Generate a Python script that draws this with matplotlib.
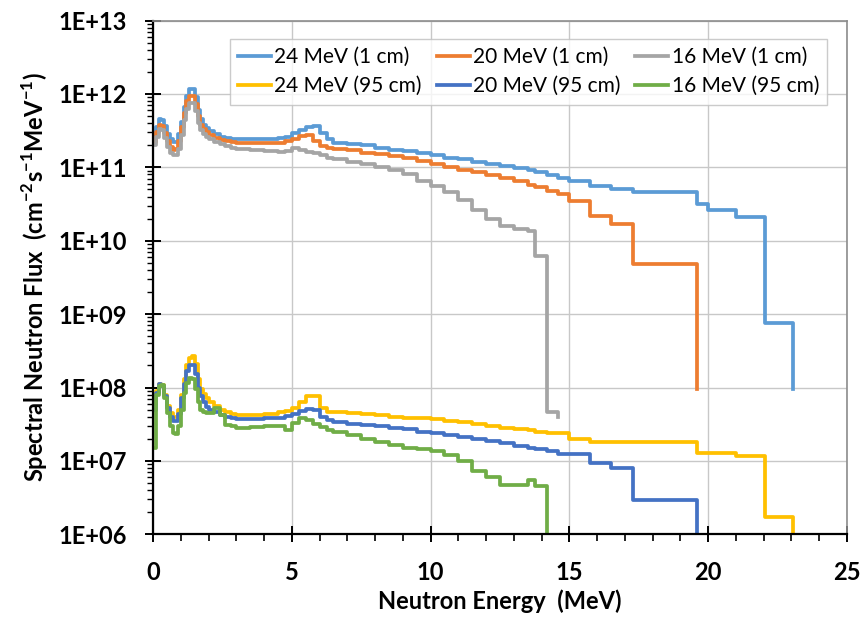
import numpy as np
import matplotlib
matplotlib.use("Agg")
import matplotlib.pyplot as plt
from matplotlib.ticker import FuncFormatter, MultipleLocator, LogLocator

plt.rcParams['font.family'] = ['Lato', 'DejaVu Sans']
plt.rcParams['mathtext.fontset'] = 'custom'
plt.rcParams['mathtext.bf'] = 'Lato:bold'
plt.rcParams['mathtext.rm'] = 'Lato'

# bin edges (MeV), shared by all spectra
energy = [0.0, 0.1, 0.2, 0.3, 0.4, 0.5, 0.6, 0.7, 0.8, 0.9,
          1.0, 1.1, 1.2, 1.3, 1.4, 1.5, 1.6, 1.7, 1.8, 1.9,
          2.0, 2.2, 2.4, 2.6, 2.8, 3.0, 3.5, 4.0, 4.5, 4.75,
          5.0, 5.25, 5.5, 5.75, 6.0, 6.25, 6.5, 7.0, 7.5, 8.0,
          8.5, 9.0, 9.5, 10.0, 10.5, 11.0, 11.5, 12.0, 12.5, 13.0,
          13.5, 13.75, 14.2, 14.6, 15.0, 15.75, 16.5, 17.3, 19.6, 20.0,
          21.0, 22.05, 23.05]

# spectral flux (cm-2 s-1 MeV-1)
flux_24_1cm = [2.6e11, 3.5e11, 4.6e11, 4.4e11, 3.6e11, 2.8e11, 2.4e11, 2.2e11, 2.2e11, 2.8e11,
               4.2e11, 6.6e11, 9.5e11, 1.15e12, 1.17e12, 9.1e11, 6.0e11, 4.5e11, 3.8e11, 3.4e11,
               3.1e11, 2.8e11, 2.6e11, 2.5e11, 2.4e11, 2.4e11, 2.4e11, 2.45e11, 2.5e11, 2.6e11,
               2.9e11, 3.2e11, 3.5e11, 3.6e11, 2.95e11, 2.4e11, 2.15e11, 2.05e11, 2.0e11, 1.86e11,
               1.74e11, 1.66e11, 1.55e11, 1.45e11, 1.35e11, 1.29e11, 1.2e11, 1.12e11, 1.05e11, 9.8e10,
               9.1e10, 8.5e10, 7.8e10, 7.1e10, 6.6e10, 5.5e10, 5.0e10, 4.6e10, 3.2e10, 2.6e10,
               2.1e10, 7.5e8, 9.5e7]

flux_20_1cm = [2.2e11, 3.0e11, 3.8e11, 3.6e11, 2.95e11, 2.3e11, 1.9e11, 1.74e11, 1.78e11, 2.3e11,
               3.5e11, 5.5e11, 7.9e11, 9.3e11, 9.3e11, 7.4e11, 5.0e11, 3.8e11, 3.3e11, 3.0e11,
               2.75e11, 2.5e11, 2.35e11, 2.25e11, 2.2e11, 2.15e11, 2.15e11, 2.15e11, 2.15e11, 2.3e11,
               2.45e11, 2.7e11, 2.75e11, 2.3e11, 1.95e11, 1.86e11, 1.78e11, 1.7e11, 1.58e11, 1.51e11,
               1.41e11, 1.32e11, 1.23e11, 1.12e11, 1.02e11, 9.3e10, 8.5e10, 7.8e10, 7.1e10, 6.5e10,
               5.8e10, 5.4e10, 4.8e10, 4.3e10, 3.5e10, 2.2e10, 1.7e10, 4.8e9, 9.5e7]

flux_16_1cm = [2.0e11, 2.6e11, 3.3e11, 3.2e11, 2.5e11, 1.9e11, 1.58e11, 1.45e11, 1.48e11, 1.8e11,
               2.75e11, 4.4e11, 6.3e11, 7.6e11, 7.6e11, 5.8e11, 4.0e11, 3.2e11, 2.8e11, 2.6e11,
               2.4e11, 2.2e11, 2.05e11, 1.95e11, 1.86e11, 1.8e11, 1.74e11, 1.66e11, 1.62e11, 1.66e11,
               1.86e11, 1.74e11, 1.62e11, 1.55e11, 1.45e11, 1.35e11, 1.29e11, 1.2e11, 1.12e11, 1.02e11,
               9.3e10, 8.1e10, 6.6e10, 5.6e10, 4.6e10, 3.6e10, 2.6e10, 2.0e10, 1.6e10, 1.45e10,
               1.35e10, 6.2e9, 4.7e7, 4.0e7]

flux_24_95cm = [6.0e7, 8.9e7, 1.1e8, 1.07e8, 7.9e7, 5.6e7, 4.5e7, 4.0e7, 4.0e7, 5.0e7,
                7.9e7, 1.32e8, 2.0e8, 2.5e8, 2.7e8, 2.1e8, 1.32e8, 9.5e7, 8.1e7, 7.1e7,
                6.3e7, 5.6e7, 5.0e7, 4.6e7, 4.4e7, 4.2e7, 4.2e7, 4.4e7, 4.6e7, 4.8e7,
                5.2e7, 6.3e7, 7.6e7, 7.6e7, 5.2e7, 4.7e7, 4.6e7, 4.5e7, 4.4e7, 4.2e7,
                4.0e7, 3.9e7, 3.8e7, 3.7e7, 3.5e7, 3.4e7, 3.2e7, 2.95e7, 2.8e7, 2.7e7,
                2.6e7, 2.5e7, 2.4e7, 2.4e7, 2.0e7, 1.8e7, 1.8e7, 1.8e7, 1.3e7, 1.3e7,
                1.17e7, 1.7e6, 7.0e5]

flux_20_95cm = [5.0e7, 8.3e7, 1.1e8, 1.05e8, 7.6e7, 5.2e7, 4.0e7, 3.5e7, 3.5e7, 4.4e7,
                7.1e7, 1.12e8, 1.66e8, 2.0e8, 2.0e8, 1.51e8, 1.0e8, 7.6e7, 6.3e7, 5.5e7,
                5.0e7, 4.6e7, 4.2e7, 4.0e7, 3.8e7, 3.7e7, 3.7e7, 3.8e7, 3.9e7, 4.1e7,
                4.4e7, 4.8e7, 5.1e7, 5.0e7, 4.0e7, 3.6e7, 3.4e7, 3.2e7, 3.1e7, 3.0e7,
                2.8e7, 2.7e7, 2.5e7, 2.4e7, 2.25e7, 2.1e7, 2.0e7, 1.86e7, 1.74e7, 1.62e7,
                1.51e7, 1.45e7, 1.35e7, 1.26e7, 1.26e7, 9.3e6, 7.9e6, 2.95e6, 6.0e5]

flux_16_95cm = [1.5e7, 7.9e7, 1.05e8, 1.07e8, 7.1e7, 4.5e7, 3.0e7, 2.4e7, 2.35e7, 3.0e7,
                5.0e7, 8.3e7, 1.15e8, 1.35e8, 1.32e8, 9.5e7, 6.3e7, 5.0e7, 4.7e7, 4.5e7,
                4.5e7, 5.2e7, 4.2e7, 3.1e7, 2.95e7, 2.8e7, 2.9e7, 2.95e7, 2.95e7, 2.6e7,
                3.3e7, 3.8e7, 3.6e7, 3.2e7, 2.9e7, 2.6e7, 2.45e7, 2.25e7, 2.0e7, 1.8e7,
                1.66e7, 1.51e7, 1.45e7, 1.38e7, 1.2e7, 1.0e7, 7.2e6, 6.0e6, 4.7e6, 4.7e6,
                5.5e6, 4.6e6, 5.0e5]

series = [
    ('24 MeV (1 cm)', flux_24_1cm, '#5B9BD5'),
    ('20 MeV (1 cm)', flux_20_1cm, '#ED7D31'),
    ('16 MeV (1 cm)', flux_16_1cm, '#A5A5A5'),
    ('24 MeV (95 cm)', flux_24_95cm, '#FFC000'),
    ('20 MeV (95 cm)', flux_20_95cm, '#4472C4'),
    ('16 MeV (95 cm)', flux_16_95cm, '#70AD47'),
]

fig = plt.figure(figsize=(8.65, 6.22), dpi=100)
ax = fig.add_axes([0.177, 0.141, 0.802, 0.826])

lines = {}
for label, vals, color in series:
    e = energy[:len(vals)]
    ln, = ax.plot(e, vals, drawstyle='steps-post', color=color, lw=2.7, label=label)
    lines[label] = ln

ax.set_yscale('log')
ax.set_ylim(1e6, 1e13)
ax.set_xlim(0, 25)
ax.xaxis.set_major_locator(MultipleLocator(5))
ax.xaxis.set_minor_locator(MultipleLocator(1))
ax.yaxis.set_major_locator(LogLocator(base=10, numticks=20))
ax.yaxis.set_minor_locator(LogLocator(base=10, subs=np.arange(2, 10), numticks=20))
ax.yaxis.set_major_formatter(FuncFormatter(lambda v, p: '1E+%02d' % int(round(np.log10(v)))))
ax.yaxis.set_minor_formatter(FuncFormatter(lambda v, p: ''))

ax.grid(True, which='major', color='#c8c8c8', lw=1)
ax.set_axisbelow(True)

for s in ['left', 'bottom']:
    ax.spines[s].set_linewidth(1.6)
    ax.spines[s].set_color('black')
for s in ['top', 'right']:
    ax.spines[s].set_linewidth(1.2)
    ax.spines[s].set_color('#8c8c8c')

ax.tick_params(axis='both', which='major', direction='inout', length=12, width=1.4,
               labelsize=17, top=False, right=False)
ax.tick_params(axis='x', which='major', pad=13)
ax.tick_params(axis='y', which='major', pad=13)
ax.tick_params(axis='x', which='minor', direction='out', length=5, width=1.2, top=False)
ax.tick_params(axis='y', which='minor', direction='out', length=4.5, width=1.0, right=False)
for t in ax.get_xticklabels() + ax.get_yticklabels():
    t.set_fontweight('bold')

ax.set_xlabel('Neutron Energy  (MeV)', fontsize=17, fontweight='bold', labelpad=4)
ax.set_ylabel('Spectral Neutron Flux  (cm$^{\\mathbf{-2}}$s$^{\\mathbf{-1}}$MeV$^{\\mathbf{-1}}$)',
              fontsize=17, fontweight='bold', labelpad=6)

order = ['24 MeV (1 cm)', '24 MeV (95 cm)', '20 MeV (1 cm)', '20 MeV (95 cm)',
         '16 MeV (1 cm)', '16 MeV (95 cm)']
leg = ax.legend([lines[k] for k in order], order, ncol=3, loc='upper right',
                bbox_to_anchor=(0.972, 0.965), fontsize=15, frameon=True, fancybox=False,
                handlelength=1.6, handletextpad=0.15, columnspacing=0.7, borderpad=0.4,
                labelspacing=0.45, borderaxespad=0)
leg.get_frame().set_edgecolor('#bfbfbf')
leg.get_frame().set_linewidth(1.0)

fig.savefig('out.png', dpi=100)
